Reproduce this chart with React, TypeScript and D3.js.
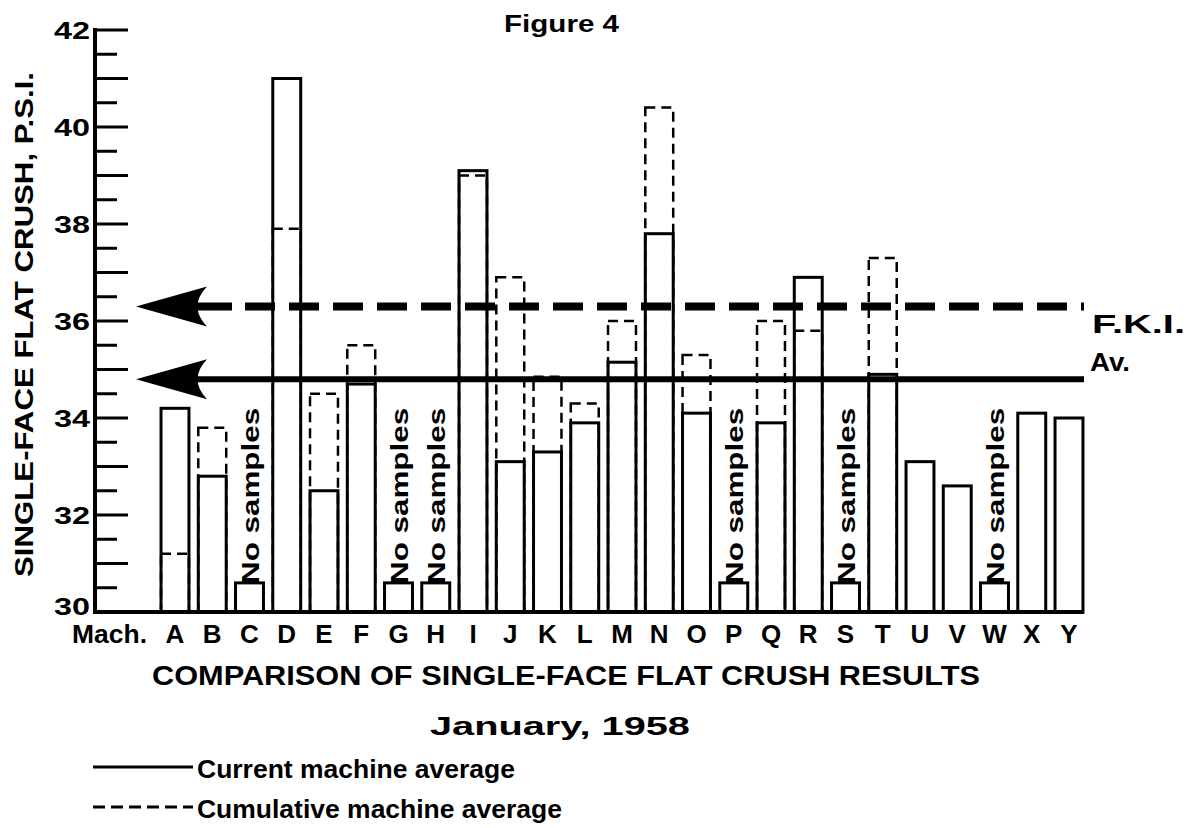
import * as d3 from "d3";

// Figure 4 - single-face flat crush by machine, January 1958
const machines = "ABCDEFGHIJKLMNOPQRSTUVWXY".split("");

// current machine average (null = no samples)
const current: (number | null)[] = [
  34.2, 32.8, null, 41.0, 32.5, 34.7, null, null, 39.1, 33.1, 33.3, 33.9, 35.15,
  37.8, 34.1, null, 33.9, 36.9, null, 34.9, 33.1, 32.6, null, 34.1, 34.0,
];

// cumulative machine average
const cumulative: (number | null)[] = [
  31.2, 33.8, null, 37.9, 34.5, 35.5, null, null, 39.0, 36.9, 34.85, 34.3, 36.0,
  40.4, 35.3, null, 36.0, 35.8, null, 37.3, null, null, null, null, null,
];

const stubValue = 30.6; // little box drawn where there were no samples
const fkiCumulative = 36.3;
const fkiCurrent = 34.8;

const yTickLabels = [30, 32, 34, 36, 38, 40, 42];

const W = 1202;
const H = 828;
const axisX = 95;
const lineEnd = 1084;
const font = "'Liberation Sans', Arial, sans-serif";

const y = d3.scaleLinear().domain([30, 42]).range([612, 30]);
const x = d3.scalePoint<string>().domain(machines).range([175, 1069]);
const barW = x.step() * 0.75;

function arrow(v: number) {
  const yy = y(v);
  return `M136,${yy} L207,${yy - 20} Q188,${yy} 207,${yy + 20} Z`;
}

export default function App() {
  const ticks = d3.range(30, 42.001, 0.5);
  const base = y(30);

  return (
    <svg
      width={W}
      height={H}
      style={{ position: "absolute", left: 0, top: 0, background: "#fff" }}
      fontFamily={font}
      fontWeight="bold"
    >
      <text x={504} y={32} fontSize={24} textLength={115} lengthAdjust="spacingAndGlyphs">
        Figure 4
      </text>

      {/* bars: current (solid) */}
      {machines.map((m, i) => {
        const v = current[i] ?? stubValue;
        return (
          <rect
            key={"c" + m}
            x={x(m)! - barW / 2}
            y={y(v)}
            width={barW}
            height={base - y(v)}
            fill="#fff"
            stroke="#000"
            strokeWidth={3}
          />
        );
      })}

      {/* bars: cumulative (dashed) */}
      {machines.map((m, i) => {
        const v = cumulative[i];
        if (v == null) return null;
        return (
          <rect
            key={"k" + m}
            x={x(m)! - barW / 2}
            y={y(v)}
            width={barW}
            height={base - y(v)}
            fill="none"
            stroke="#000"
            strokeWidth={2.5}
            strokeDasharray="10 6"
          />
        );
      })}

      {/* No samples */}
      {machines.map((m, i) =>
        current[i] == null ? (
          <text
            key={"n" + m}
            transform={`translate(${x(m)! + 9},${y(stubValue) + 1}) rotate(-90)`}
            fontSize={23}
            textLength={176}
            lengthAdjust="spacingAndGlyphs"
          >
            No samples
          </text>
        ) : null
      )}

      {/* F.K.I. averages */}
      <line x1={180} x2={232} y1={y(fkiCumulative)} y2={y(fkiCumulative)} stroke="#000" strokeWidth={8} />
      <line
        x1={245}
        x2={lineEnd}
        y1={y(fkiCumulative)}
        y2={y(fkiCumulative)}
        stroke="#000"
        strokeWidth={8}
        strokeDasharray="30 14"
      />
      <path d={arrow(fkiCumulative)} fill="#000" />
      <line x1={180} x2={lineEnd} y1={y(fkiCurrent)} y2={y(fkiCurrent)} stroke="#000" strokeWidth={6} />
      <path d={arrow(fkiCurrent)} fill="#000" />
      <text x={1092} y={y(fkiCumulative) + 27} fontSize={26} textLength={93} lengthAdjust="spacingAndGlyphs">
        F.K.I.
      </text>
      <text x={1090} y={y(fkiCurrent) - 8} fontSize={26} textLength={40} lengthAdjust="spacingAndGlyphs">
        Av.
      </text>

      {/* axes */}
      <line x1={axisX} x2={axisX} y1={y(42) - 2} y2={base + 2} stroke="#000" strokeWidth={4} />
      <line x1={axisX - 2} x2={lineEnd} y1={base} y2={base} stroke="#000" strokeWidth={4} />
      {ticks.map((t) => (
        <line
          key={t}
          x1={axisX}
          x2={axisX + (Number.isInteger(t) ? 33 : 22)}
          y1={y(t)}
          y2={y(t)}
          stroke="#000"
          strokeWidth={3}
        />
      ))}
      {yTickLabels.map((t) => (
        <text
          key={t}
          x={90}
          y={y(t) - (t === 30 ? 6 : 0)}
          dy="0.36em"
          textAnchor="end"
          fontSize={24}
          textLength={36}
          lengthAdjust="spacingAndGlyphs"
        >
          {t}
        </text>
      ))}
      <text
        transform={`translate(33,577) rotate(-90)`}
        fontSize={26}
        textLength={505}
        lengthAdjust="spacingAndGlyphs"
      >
        SINGLE-FACE FLAT CRUSH, P.S.I.
      </text>

      <text x={72} y={643} fontSize={26} textLength={75} lengthAdjust="spacingAndGlyphs">
        Mach.
      </text>
      {machines.map((m) => (
        <text key={"l" + m} x={x(m)} y={643} textAnchor="middle" fontSize={26}>
          {m}
        </text>
      ))}

      <text x={152} y={685} fontSize={27} textLength={828} lengthAdjust="spacingAndGlyphs">
        COMPARISON OF SINGLE-FACE FLAT CRUSH RESULTS
      </text>
      <text x={430} y={735} fontSize={26} textLength={260} lengthAdjust="spacingAndGlyphs">
        January, 1958
      </text>

      {/* legend */}
      <line x1={93} x2={193} y1={767} y2={767} stroke="#000" strokeWidth={3} />
      <text x={197} y={778} fontSize={26} textLength={318} lengthAdjust="spacingAndGlyphs">
        Current machine average
      </text>
      <line x1={93} x2={193} y1={807} y2={807} stroke="#000" strokeWidth={3} strokeDasharray="12 6" />
      <text x={197} y={818} fontSize={26} textLength={365} lengthAdjust="spacingAndGlyphs">
        Cumulative machine average
      </text>
    </svg>
  );
}
